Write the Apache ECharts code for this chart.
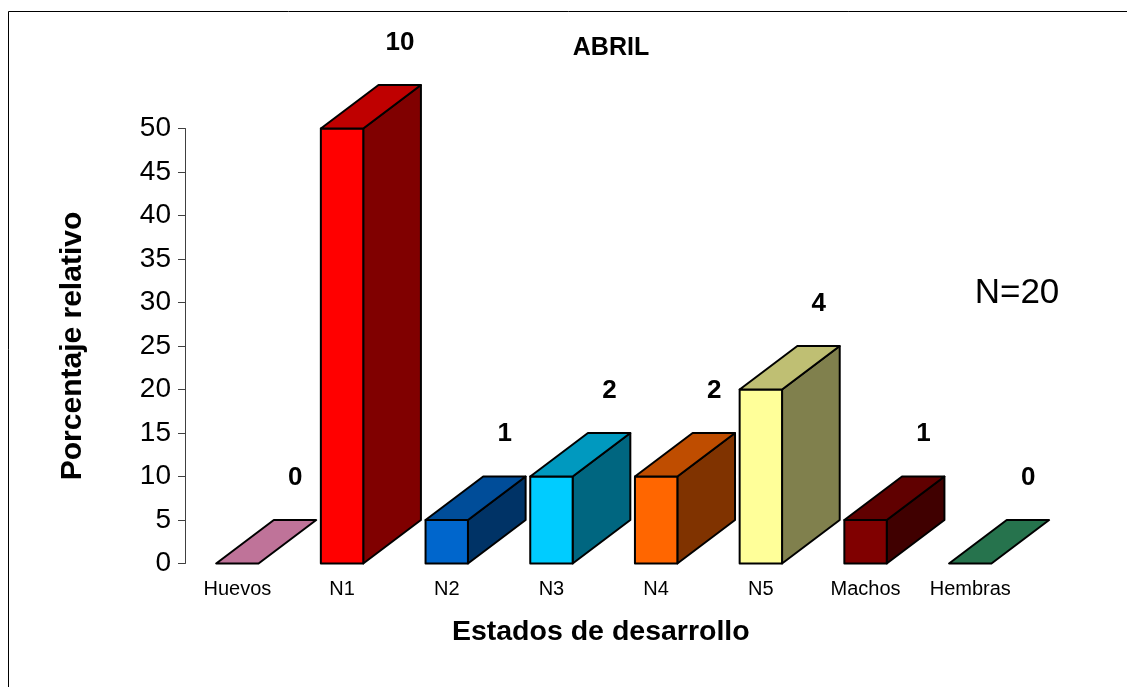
<!DOCTYPE html>
<html>
<head>
<meta charset="utf-8">
<script src="https://cdn.jsdelivr.net/npm/echarts@6/dist/echarts.min.js"></script>
<style>
html,body{margin:0;padding:0;background:#fff;}
#chart{width:1127px;height:687px;}
</style>
</head>
<body>
<div id="chart"></div>
<script>
const categories = ['Huevos', 'N1', 'N2', 'N3', 'N4', 'N5', 'Machos', 'Hembras'];
const percentValues = [0, 50, 5, 10, 10, 20, 5, 0];
const counts = [0, 10, 1, 2, 2, 4, 1, 0];
const yTicks = { min: 0, max: 50, interval: 5 };
const titleText = 'ABRIL';
const sampleText = 'N=20';
const yName = 'Porcentaje relativo';
const xName = 'Estados de desarrollo';

const frontColors = ['#FF99CC', '#FF0000', '#0066CC', '#00CCFF', '#FF6600', '#FFFF99', '#800000', '#339966'];

function shade(hex, f) {
  const n = parseInt(hex.slice(1), 16);
  const r = Math.round(((n >> 16) & 255) * f);
  const g = Math.round(((n >> 8) & 255) * f);
  const b = Math.round((n & 255) * f);
  return 'rgb(' + r + ',' + g + ',' + b + ')';
}

const FONT = '"Liberation Sans", Arial, Helvetica, sans-serif';

const chart = echarts.init(document.getElementById('chart'), null, { renderer: 'canvas' });

function renderItem(params, api) {
  const idx = params.dataIndex;
  const cat = api.value(0);
  const val = api.value(1);
  const top = api.coord([cat, val]);
  const base = api.coord([cat, 0]);
  const band = api.size([1, 0])[0];
  const bw = band * 0.405;
  const dx = bw * 1.36;
  const dy = api.size([0, 5])[1];
  const x0 = top[0] - bw / 2;
  const x1 = top[0] + bw / 2;
  const yt = top[1];
  const yb = base[1];
  const col = frontColors[idx];
  const line = { stroke: '#000', lineWidth: 2, lineJoin: 'round' };
  const children = [];
  if (yb - yt > 0.5) {
    children.push({
      type: 'polygon',
      shape: { points: [[x1, yt], [x1 + dx, yt - dy], [x1 + dx, yb - dy], [x1, yb]] },
      style: Object.assign({ fill: shade(col, 0.5) }, line)
    });
    children.push({
      type: 'rect',
      shape: { x: x0, y: yt, width: bw, height: yb - yt },
      style: Object.assign({ fill: col }, line)
    });
  }
  children.push({
    type: 'polygon',
    shape: { points: [[x0, yt], [x1, yt], [x1 + dx, yt - dy], [x0 + dx, yt - dy]] },
    style: Object.assign({ fill: shade(col, 0.75) }, line)
  });
  children.push({
    type: 'text',
    style: {
      text: String(counts[idx]),
      x: top[0] + 58,
      y: yt - 86,
      align: 'center',
      verticalAlign: 'middle',
      fill: '#000',
      font: 'bold 26px ' + FONT
    }
  });
  return { type: 'group', children: children };
}

const option = {
  backgroundColor: '#fff',
  animation: false,
  title: {
    text: titleText,
    left: 606,
    top: 31,
    textAlign: 'center',
    textStyle: { fontFamily: FONT, fontWeight: 'bold', fontSize: 25, color: '#000' }
  },
  grid: { left: 185, right: 104.4, top: 128.5, bottom: 123.5, containLabel: false },
  xAxis: {
    type: 'category',
    data: categories,
    axisLine: { show: false },
    axisTick: { show: false },
    axisLabel: { fontFamily: FONT, fontSize: 20, color: '#000', margin: 16, interval: 0 },
    splitLine: { show: false },
    name: xName,
    nameLocation: 'middle',
    nameGap: 54,
    nameTextStyle: { fontFamily: FONT, fontWeight: 'bold', fontSize: 28.5, color: '#000', verticalAlign: 'top', padding: [0, 6, 0, 0] }
  },
  yAxis: {
    type: 'value',
    min: yTicks.min,
    max: yTicks.max,
    interval: yTicks.interval,
    axisLine: { show: true, lineStyle: { color: '#404040', width: 1 } },
    axisTick: { show: true, length: 7, lineStyle: { color: '#404040', width: 1 } },
    axisLabel: { fontFamily: FONT, fontSize: 28, color: '#000', margin: 14 },
    splitLine: { show: false },
    name: yName,
    nameLocation: 'middle',
    nameRotate: 90,
    nameGap: 112,
    nameTextStyle: { fontFamily: FONT, fontWeight: 'bold', fontSize: 30, color: '#000', verticalAlign: 'middle' }
  },
  graphic: [
    {
      type: 'rect',
      shape: { x: 8.5, y: 11.5, width: 1300, height: 900 },
      style: { fill: 'none', stroke: '#000', lineWidth: 1 },
      silent: true
    },
    {
      type: 'text',
      x: 1017,
      y: 293,
      style: {
        text: sampleText,
        align: 'center',
        verticalAlign: 'middle',
        fill: '#000',
        font: '35px ' + FONT
      }
    }
  ],
  series: [{
    type: 'custom',
    renderItem: renderItem,
    clip: false,
    encode: { x: 0, y: 1 },
    data: categories.map((c, i) => [i, percentValues[i]])
  }]
};

chart.setOption(option);
</script>
</body>
</html>
